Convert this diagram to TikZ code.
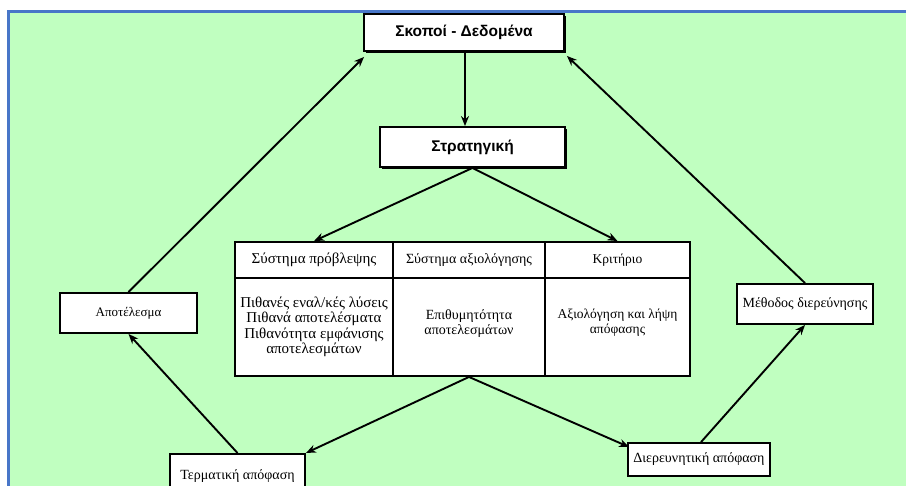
\documentclass[tikz,border=0pt]{standalone}
\usepackage{fontspec}
\setmainfont{Liberation Serif}
\newfontfamily\headsans{Liberation Sans}
\usetikzlibrary{arrows.meta,shadows,calc}

\definecolor{paneGreen}{RGB}{192,255,192}
\definecolor{frameBlue}{RGB}{72,118,200}

\newcommand{\fsz}[1]{\fontsize{#1}{15.5}\selectfont}

\tikzset{
  box/.style={draw=black, line width=1.9pt, fill=white, inner sep=2pt,
    align=center, font=\fsz{14}},
  headbox/.style={box, font=\headsans\bfseries\fontsize{15.5}{18}\selectfont,
    drop shadow={shadow xshift=1.6pt, shadow yshift=-1.8pt, fill=black, opacity=1}},
  cell/.style={draw=black, line width=1.9pt, fill=white, inner sep=2pt,
    align=center, font=\fsz{14}},
  flow/.style={line width=1.9pt, -{Stealth[length=10pt,width=8pt]}}
}

\begin{document}
\begin{tikzpicture}[x=1pt,y=-1pt]
  \useasboundingbox (0,0) rectangle (906,486);
  \begin{scope}
    \clip (0,0) rectangle (906,486);
    % page and framed green panel
    \fill[white] (0,0) rectangle (906,486);
    \fill[paneGreen] (8.5,11.5) rectangle (906,486);
    \draw[frameBlue, line width=2.5pt] (8.5,486) -- (8.5,11.5) -- (906,11.5);

    % top boxes
    \node[headbox, minimum width=200pt, minimum height=37pt] (goals) at (464,32.5) {Σκοποί - Δεδομένα};
    \node[headbox, minimum width=185pt, minimum height=40pt] (strat) at (472.5,147) {Στρατηγική};

    % decision table: header row
    \node[cell, minimum width=158pt, minimum height=36pt, font=\fsz{15}] (h1) at (314,260) {Σύστημα πρόβλεψης};
    \node[cell, minimum width=152pt, minimum height=36pt] (h2) at (469,260) {Σύστημα αξιολόγησης};
    \node[cell, minimum width=145pt, minimum height=36pt, font=\fsz{13.5}] (h3) at (617.5,260) {Κριτήριο};
    % decision table: body row
    \node[cell, minimum width=158pt, minimum height=98pt, font=\fsz{15}] (b1) at (314,327)
      {Πιθανές εναλ/κές λύσεις\\Πιθανά αποτελέσματα\\Πιθανότητα εμφάνισης\\αποτελεσμάτων};
    \node[cell, minimum width=152pt, minimum height=98pt] (b2) at (469,327)
      {Επιθυμητότητα\\αποτελεσμάτων\\[-6pt]\mbox{}};
    \node[cell, minimum width=145pt, minimum height=98pt, font=\fsz{13.5}] (b3) at (617.5,327)
      {Αξιολόγηση και λήψη\\απόφασης\\[-4pt]\mbox{}};

    % side and bottom boxes
    \node[box, minimum width=137pt, minimum height=40pt, font=\fsz{13}] (result) at (128.5,313) {Αποτέλεσμα};
    \node[box, minimum width=136pt, minimum height=40pt] (method) at (805,304) {Μέθοδος διερεύνησης};
    \node[box, minimum width=135pt, minimum height=48pt, anchor=north] (term) at (237.5,453) {\raisebox{7pt}{Τερματική απόφαση}};
    \node[box, minimum width=142pt, minimum height=33pt, inner sep=1pt] (explor) at (699,459.5) {Διερευνητική απόφαση};

    % connectors
    \draw[flow] (goals.south -| 465,0) -- (strat.north -| 465,0);
    \draw[flow] (strat.south) -- (h1.north);
    \draw[flow] (strat.south) -- (h3.north);
    \draw[flow] (b2.south) -- (term.north east);
    \draw[flow] (b2.south) -- ($(explor.north west)+(2,5)$);
    \draw[flow] (term.north) -- (result.south);
    \draw[flow] (result.north) -- ($(goals.south west)+(1,5)$);
    \draw[flow] ($(explor.north west)+(74,0)$) -- (method.south);
    \draw[flow] (method.north) -- ($(goals.south east)+(2,4)$);
  \end{scope}
\end{tikzpicture}
\end{document}
